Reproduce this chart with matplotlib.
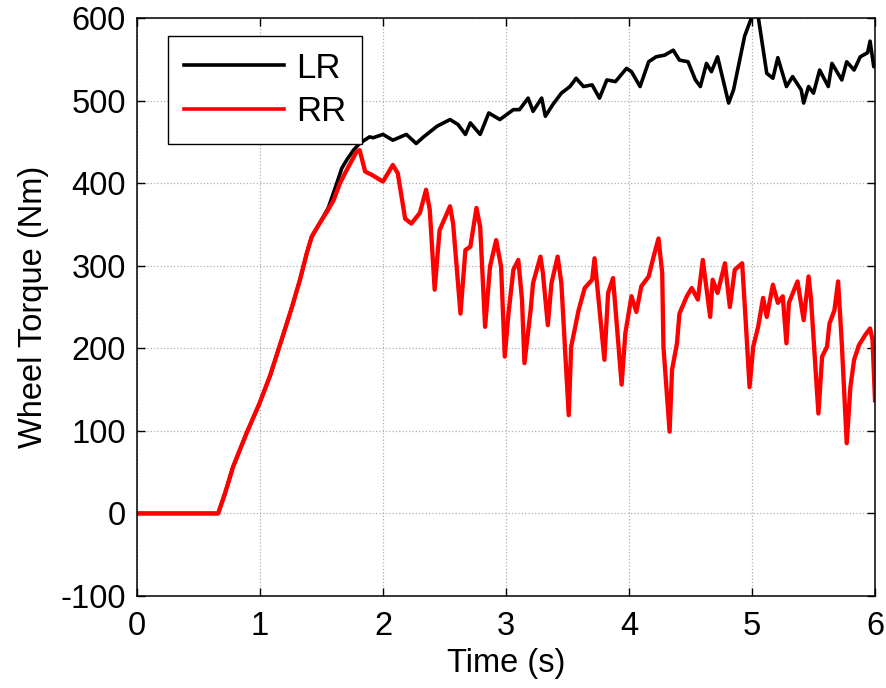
"""
Wheel torque of the two rear wheels (LR / RR)
"""
import numpy as np
import matplotlib
matplotlib.use('Agg')
import matplotlib.pyplot as plt

matplotlib.rcParams['font.family'] = ['Liberation Sans', 'DejaVu Sans']
matplotlib.rcParams['font.size'] = 23.5
matplotlib.rcParams['axes.unicode_minus'] = False

# LR wheel torque (Nm) vs time (s)
t_lr = [0, 0.66, 0.715, 0.78, 0.89, 0.995, 1.08, 1.175, 1.26, 1.325, 1.38, 1.42, 1.475, 1.555,
        1.62, 1.665, 1.705, 1.76, 1.81, 1.84, 1.89, 1.92, 2.0, 2.08, 2.19, 2.27, 2.33, 2.44,
        2.545, 2.61, 2.67, 2.71, 2.79, 2.86, 2.95, 3.06, 3.11, 3.18, 3.22, 3.29, 3.32, 3.38,
        3.45, 3.52, 3.57, 3.63, 3.70, 3.76, 3.82, 3.89, 3.98, 4.02, 4.09, 4.16, 4.22, 4.29,
        4.36, 4.41, 4.48, 4.54, 4.58, 4.63, 4.67, 4.72, 4.81, 4.85, 4.94, 5.0, 5.05, 5.12,
        5.17, 5.21, 5.28, 5.33, 5.40, 5.42, 5.46, 5.50, 5.55, 5.62, 5.65, 5.73, 5.77, 5.83,
        5.88, 5.94, 5.96, 5.99, 6.0]
lr = [0, 0, 24, 56, 97, 133, 166, 210, 250, 283, 315, 335, 349, 370,
      398, 418, 428, 440, 448, 451, 456, 455, 459, 452, 459, 448, 456, 469,
      477, 471, 459, 473, 459, 485, 477, 489, 489, 503, 487, 503, 481, 495,
      509, 517, 527, 517, 519, 503, 525, 523, 539, 535, 517, 547, 553, 555,
      561, 549, 547, 525, 517, 545, 535, 553, 497, 513, 578, 602, 602, 533,
      527, 552, 517, 529, 513, 497, 517, 509, 537, 517, 545, 525, 547, 537,
      553, 558, 572, 541, 545]

# RR wheel torque (Nm) vs time (s)
t_rr = [0, 0.66, 0.715, 0.78, 0.89, 0.995, 1.08, 1.175, 1.26, 1.325, 1.38, 1.42, 1.475, 1.555,
        1.60, 1.65, 1.705, 1.785, 1.81, 1.855, 1.91, 1.975, 2.00, 2.08, 2.12, 2.18, 2.23, 2.30,
        2.35, 2.38, 2.42, 2.46, 2.545, 2.57, 2.63, 2.67, 2.71, 2.76, 2.79, 2.83, 2.87, 2.92,
        2.96, 2.99, 3.02, 3.06, 3.10, 3.13, 3.15, 3.20, 3.22, 3.28, 3.30, 3.34, 3.37, 3.42,
        3.45, 3.51, 3.53, 3.59, 3.64, 3.70, 3.72, 3.75, 3.80, 3.83, 3.87, 3.90, 3.94, 3.97,
        4.02, 4.06, 4.10, 4.16, 4.20, 4.24, 4.27, 4.28, 4.33, 4.35, 4.39, 4.41, 4.47, 4.51,
        4.56, 4.60, 4.66, 4.68, 4.72, 4.78, 4.82, 4.86, 4.92, 4.95, 4.98, 5.01, 5.05, 5.09,
        5.12, 5.17, 5.21, 5.25, 5.28, 5.30, 5.37, 5.42, 5.46, 5.48, 5.54, 5.57, 5.61, 5.63,
        5.67, 5.70, 5.73, 5.77, 5.80, 5.83, 5.87, 5.92, 5.96, 5.98, 6.0]
rr = [0, 0, 24, 56, 97, 133, 166, 210, 250, 283, 315, 335, 349, 368,
      380, 400, 416, 438, 440, 414, 410, 404, 402, 422, 412, 357, 351, 364,
      392, 368, 271, 343, 372, 351, 242, 319, 323, 370, 347, 226, 299, 331,
      299, 190, 242, 295, 307, 259, 182, 246, 279, 311, 291, 228, 279, 311,
      279, 119, 202, 246, 273, 283, 309, 263, 186, 267, 285, 230, 156, 218,
      263, 244, 275, 287, 311, 333, 291, 202, 99, 174, 206, 242, 263, 273,
      259, 307, 238, 283, 267, 303, 250, 295, 303, 230, 153, 202, 226, 261,
      238, 277, 255, 263, 206, 255, 281, 234, 287, 259, 121, 190, 202, 230,
      246, 281, 206, 85, 153, 186, 204, 216, 224, 210, 137]

x_ticks = [0, 1, 2, 3, 4, 5, 6]
y_ticks = [-100, 0, 100, 200, 300, 400, 500, 600]

fig = plt.figure(figsize=(8.86, 6.88), dpi=100)
ax = fig.add_axes([137 / 886, 92 / 688, 738 / 886, 578 / 688])

ax.plot(t_lr, lr, color='black', lw=2.6, label='LR')
ax.plot(t_rr, rr, color='#ff0000', lw=3.1, label='RR')

ax.set_xlim(0, 6)
ax.set_ylim(-100, 600)
ax.set_xticks(x_ticks)
ax.set_yticks(y_ticks)
ax.grid(True, color='#b0b0b0', linestyle=':', linewidth=0.9)
ax.tick_params(direction='in', length=6, width=1.0, top=True, right=True)
ax.tick_params(axis='y', pad=8)
ax.tick_params(axis='x', pad=11)
for sp in ax.spines.values():
    sp.set_linewidth(1.1)

ax.set_xlabel('Time (s)', labelpad=4)
ax.set_ylabel('Wheel Torque (Nm)', labelpad=8)

leg = ax.legend(loc='upper left', bbox_to_anchor=(31 / 738, 1 - 18 / 578),
                borderaxespad=0, fancybox=False, framealpha=1, edgecolor='black',
                fontsize=25, handlelength=2.9, handletextpad=0.35, labelspacing=0.3,
                borderpad=0.45)
leg.get_frame().set_linewidth(1.0)
for line in leg.get_lines():
    line.set_linewidth(2.6)

fig.savefig('out.png', dpi=100)
plt.close(fig)
